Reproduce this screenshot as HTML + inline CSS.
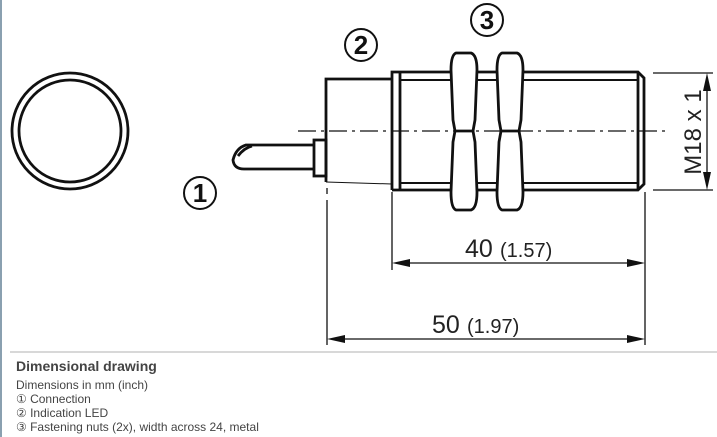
<!DOCTYPE html>
<html><head><meta charset="utf-8"><style>
html,body{margin:0;padding:0;background:#fff;}
body{width:717px;height:437px;overflow:hidden;position:relative;font-family:"Liberation Sans",sans-serif;}
.cap{position:absolute;left:16px;font-family:"Liberation Sans",sans-serif;color:#444;}
</style></head><body>
<svg width="717" height="437" style="position:absolute;left:0;top:0" font-family="Liberation Sans, sans-serif">
<rect x="0" y="0" width="2" height="437" fill="#8aa0b0"/>
<line x1="10" y1="352" x2="717" y2="352" stroke="#ccc" stroke-width="1.5"/>
<circle cx="70" cy="131" r="58" fill="none" stroke="#111" stroke-width="2.8"/>
<circle cx="70" cy="131" r="51" fill="none" stroke="#111" stroke-width="2.8"/>
<g fill="none" stroke="#111" stroke-width="2.8">
<path d="M314,145 L246,145 Q236,148 233,160 Q234,169 244,169 L314,169"/>
<path d="M238,156 Q244,148 252,146"/>
<rect x="314" y="140" width="12" height="36"/>
<path d="M326,182 L326,79 L392,79"/>
<path d="M392,190 L392,72 L638,72 L644,78 L644,184 L638,190 L392,190"/>
<line x1="400" y1="72" x2="400" y2="190"/>
<line x1="638" y1="72" x2="638" y2="190"/>
<line x1="400" y1="80" x2="638" y2="80" stroke-width="2"/>
<line x1="400" y1="183" x2="638" y2="183" stroke-width="2"/>
<path d="M456,53 L471,53 Q477,55 477,70 L475,120 L473,131 L475,142 L477,192 Q477,208 471,210 L456,210 Q451,208 451,192 L453,142 L455,131 L453,120 L451,70 Q451,55 456,53 Z" fill="#fff"/>
<line x1="455" y1="131" x2="473" y2="131"/>
<path d="M502,53 L517,53 Q523,55 523,70 L521,120 L519,131 L521,142 L523,192 Q523,208 517,210 L502,210 Q497,208 497,192 L499,142 L501,131 L499,120 L497,70 Q497,55 502,53 Z" fill="#fff"/>
<line x1="501" y1="131" x2="519" y2="131"/>
</g>
<line x1="326" y1="182" x2="392" y2="184" stroke="#111" stroke-width="1"/>
<line x1="298" y1="131" x2="665" y2="131" stroke="#111" stroke-width="1.3" stroke-dasharray="18,5,3,5"/>
<g stroke="#111" stroke-width="1.3">
<line x1="327" y1="188" x2="327" y2="194"/>
<line x1="327" y1="200" x2="327" y2="345"/>
<line x1="392" y1="192" x2="392" y2="270"/>
<line x1="645" y1="192" x2="645" y2="345"/>
<line x1="653" y1="73" x2="713" y2="73"/>
<line x1="653" y1="190" x2="713" y2="190"/>
<line x1="707" y1="80" x2="707" y2="183"/>
<line x1="400" y1="263" x2="637" y2="263"/>
<line x1="335" y1="339" x2="637" y2="339"/>
</g>
<g fill="#111">
<path d="M392,263 L410,259 L410,267Z"/><path d="M645,263 L627,259 L627,267Z"/>
<path d="M327,339 L345,335 L345,343Z"/><path d="M645,339 L627,335 L627,343Z"/>
<path d="M707,73 L703,91 L711,91Z"/><path d="M707,190 L703,172 L711,172Z"/>
</g>
<g fill="#222">
<text x="465" y="257" font-size="25">40</text><text x="500" y="257" font-size="20">(1.57)</text>
<text x="432" y="333" font-size="25">50</text><text x="467" y="333" font-size="20">(1.97)</text>
<text transform="translate(701,132) rotate(-90)" text-anchor="middle" font-size="24">M18 x 1</text>
</g>
<g fill="none" stroke="#111" stroke-width="2">
<circle cx="200" cy="193" r="16"/><circle cx="361" cy="45" r="16"/><circle cx="487" cy="20" r="16"/>
</g>
<g fill="#111" font-size="26" font-weight="bold" text-anchor="middle">
<text x="200" y="202">1</text><text x="361" y="54">2</text><text x="487" y="29">3</text>
</g>
</svg>
<div class="cap" style="top:358px;font-size:14px;font-weight:bold;">Dimensional drawing</div>
<div class="cap" style="top:378px;font-size:12px;line-height:14px;">Dimensions in mm (inch)<br>① Connection<br>② Indication LED<br>③ Fastening nuts (2x), width across 24, metal</div>
</body></html>
